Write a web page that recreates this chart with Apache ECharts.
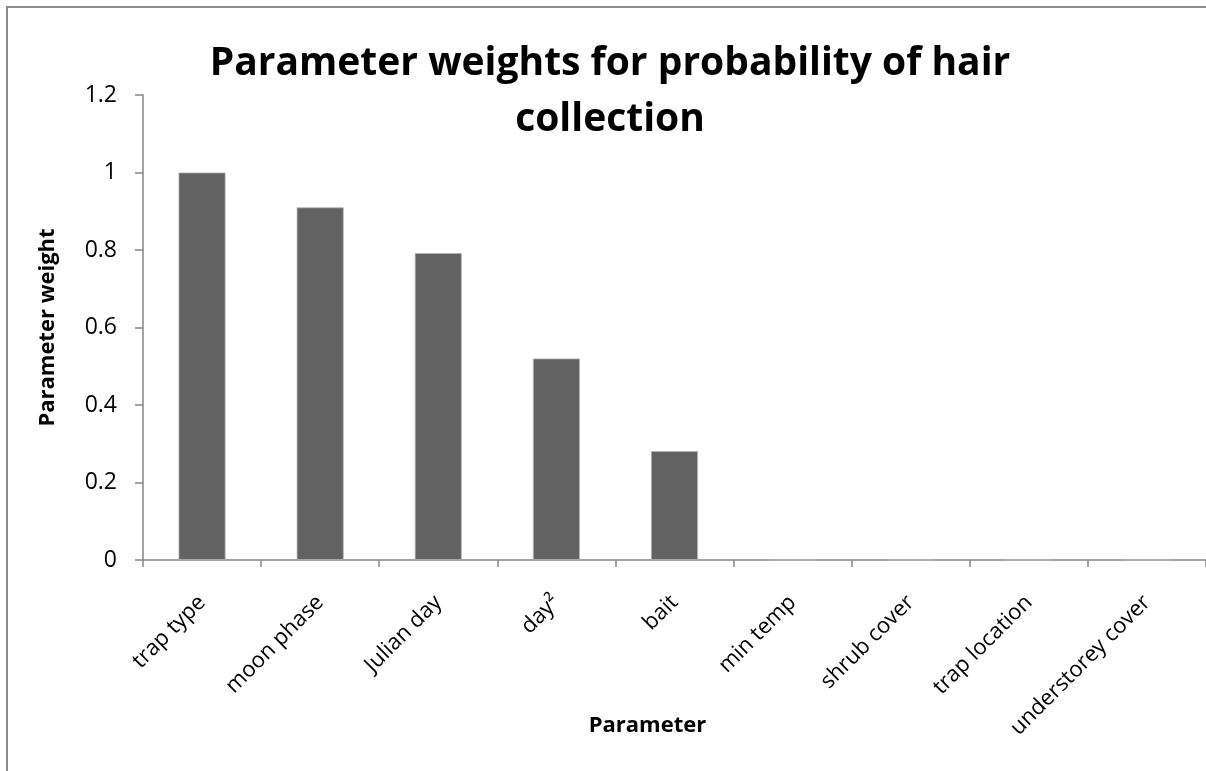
<!DOCTYPE html>
<html>
<head>
<meta charset="utf-8">
<script src="https://cdn.jsdelivr.net/npm/echarts@6/dist/echarts.min.js"></script>
<style>
  html, body { margin: 0; padding: 0; background: #fff; }
  #chart { width: 1206px; height: 771px; }
</style>
</head>
<body>
<div id="chart"></div>
<script>
// data
var parameters = ["trap type", "moon phase", "Julian day", "day²", "bait",
  "min temp", "shrub cover", "trap location", "understorey cover"];
var weights = [1.0, 0.91, 0.792, 0.52, 0.281, 0, 0, 0, 0];
var yTicks = { min: 0, max: 1.2, interval: 0.2 };

var font = "Open Sans";
var axisGrey = "#868686";

var myChart = echarts.init(document.getElementById("chart"));

var option = {
  backgroundColor: "#fff",
  animation: false,
  title: {
    text: "Parameter weights for probability of hair\ncollection",
    left: 605,
    top: 31,
    textAlign: "center",
    textStyle: {
      fontFamily: font,
      fontWeight: "bold",
      fontSize: 39,
      lineHeight: 56,
      color: "#000"
    }
  },
  graphic: [
    {
      type: "rect",
      shape: { x: 7, y: 7, width: 1260, height: 820 },
      style: { fill: "none", stroke: "#8c8c8c", lineWidth: 2 },
      silent: true
    }
  ],
  grid: {
    left: 143,
    top: 95,
    width: 1065,
    height: 465
  },
  xAxis: {
    type: "category",
    data: parameters,
    name: "Parameter",
    nameLocation: "middle",
    nameGap: 155,
    nameMoveOverlap: false,
    nameTextStyle: {
      fontFamily: font,
      fontWeight: "bold",
      fontSize: 22,
      color: "#000",
      padding: [0, 54, 0, 0]
    },
    axisLine: { lineStyle: { color: axisGrey, width: 1.5 } },
    axisTick: { show: true, length: 7, lineStyle: { color: axisGrey, width: 1.5 } },
    axisLabel: {
      rotate: 45,
      margin: 39,
      fontFamily: font,
      fontSize: 22,
      color: "#000",
      interval: 0
    }
  },
  yAxis: {
    type: "value",
    min: yTicks.min,
    max: yTicks.max,
    interval: yTicks.interval,
    name: "Parameter weight",
    nameLocation: "middle",
    nameGap: 84,
    nameMoveOverlap: false,
    nameTextStyle: {
      fontFamily: font,
      fontWeight: "bold",
      fontSize: 22,
      color: "#000"
    },
    splitLine: { show: false },
    axisLine: { show: true, lineStyle: { color: axisGrey, width: 1.5 } },
    axisTick: { show: true, length: 8, lineStyle: { color: axisGrey, width: 1.5 } },
    axisLabel: {
      margin: 26,
      fontFamily: font,
      fontSize: 23,
      color: "#000",
      formatter: function (v) {
        return String(Math.round(v * 10) / 10);
      }
    }
  },
  series: [
    {
      type: "bar",
      data: weights,
      barWidth: 47,
      itemStyle: {
        color: "#626262",
        borderColor: "#b5b5b5",
        borderWidth: 0.8
      }
    }
  ]
};

myChart.setOption(option);
</script>
</body>
</html>
